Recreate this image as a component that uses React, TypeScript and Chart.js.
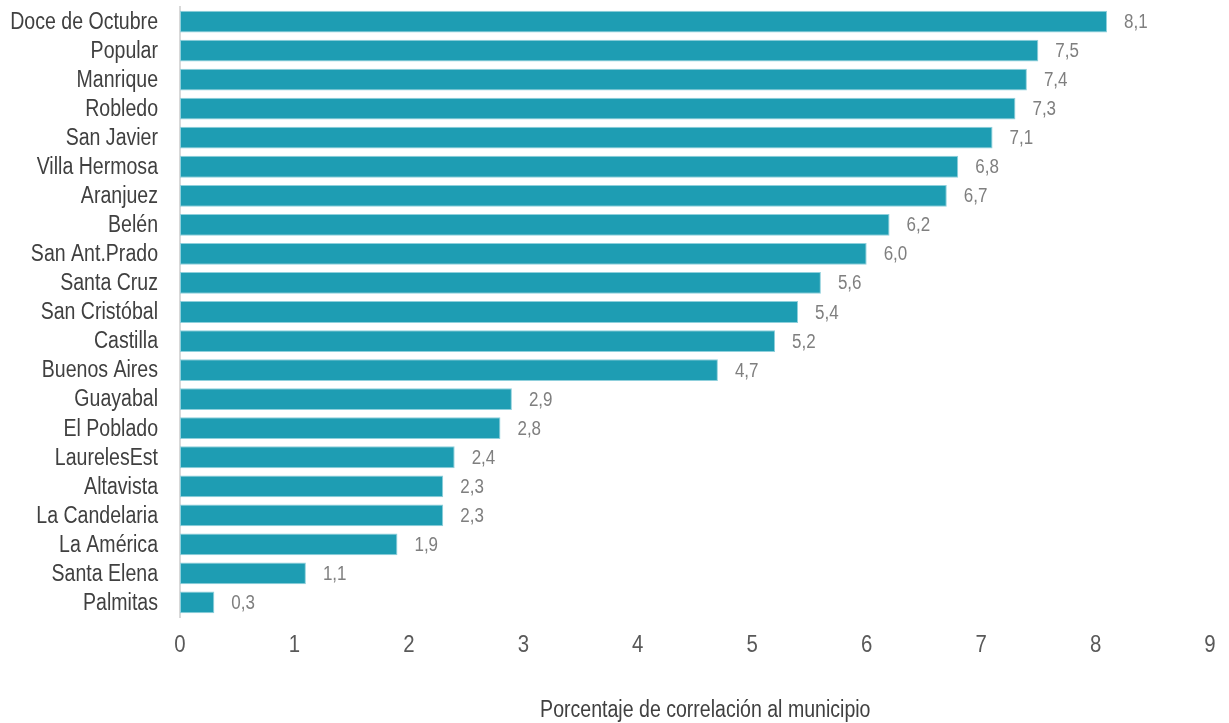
import React, { useEffect, useRef } from "react";
import { Chart, registerables } from "chart.js";

Chart.register(...registerables);

const comunas: string[] = [
  "Doce de Octubre", "Popular", "Manrique", "Robledo", "San Javier", "Villa Hermosa",
  "Aranjuez", "Belén", "San Ant.Prado", "Santa Cruz", "San Cristóbal", "Castilla",
  "Buenos Aires", "Guayabal", "El Poblado", "LaurelesEst", "Altavista", "La Candelaria",
  "La América", "Santa Elena", "Palmitas",
];

const porcentajes: number[] = [
  8.1, 7.5, 7.4, 7.3, 7.1, 6.8, 6.7, 6.2, 6.0, 5.6, 5.4, 5.2, 4.7, 2.9, 2.8, 2.4, 2.3, 2.3, 1.9, 1.1, 0.3,
];

const ticksX: number[] = [0, 1, 2, 3, 4, 5, 6, 7, 8, 9];

const tituloEje = "Porcentaje de correlación al municipio";

const FONT = '"Liberation Sans", Arial, sans-serif';
// horizontal squeeze that gives the narrow typeface look
const SX = 0.85;

const fmt = (v: number) => v.toFixed(1).replace(".", ",");

function narrowText(
  ctx: CanvasRenderingContext2D,
  text: string,
  x: number,
  y: number,
  size: number,
  color: string,
  align: CanvasTextAlign
) {
  ctx.save();
  ctx.font = `${size}px ${FONT}`;
  ctx.fillStyle = color;
  ctx.textAlign = align;
  ctx.textBaseline = "middle";
  ctx.translate(x, y);
  ctx.scale(SX, 1);
  ctx.fillText(text, 0, 0);
  ctx.restore();
}

// Category names, tick numbers, bar values and the axis title
const textLayer = {
  id: "textLayer",
  afterDraw(chart: any) {
    const ctx = chart.ctx as CanvasRenderingContext2D;
    const meta = chart.getDatasetMeta(0);
    const xs = chart.scales.x;
    const ys = chart.scales.y;
    const { left, right, bottom } = chart.chartArea;

    comunas.forEach((name, i) => {
      narrowText(ctx, name, left - 22, ys.getPixelForValue(i) + 1, 23, "#404040", "right");
    });

    meta.data.forEach((bar: any, i: number) => {
      narrowText(ctx, fmt(porcentajes[i]), bar.x + 17, bar.y + 1, 20, "#7f7f7f", "left");
    });

    ticksX.forEach((t) => {
      narrowText(ctx, String(t), xs.getPixelForValue(t), bottom + 28, 24, "#595959", "center");
    });

    narrowText(ctx, tituloEje, left + (right - left) * 0.51, 711, 23, "#404040", "center");
  },
};

export default function App() {
  const canvasRef = useRef<HTMLCanvasElement | null>(null);

  useEffect(() => {
    if (!canvasRef.current) return;
    const chart = new Chart(canvasRef.current, {
      type: "bar",
      data: {
        labels: comunas,
        datasets: [
          {
            data: porcentajes,
            backgroundColor: "#1e9db3",
            borderColor: "#8fd0dc",
            borderWidth: 1,
            borderSkipped: false,
            categoryPercentage: 1,
            barPercentage: 0.75,
          },
        ],
      },
      options: {
        indexAxis: "y",
        animation: false,
        responsive: true,
        maintainAspectRatio: false,
        layout: { padding: { top: 7, right: 19, bottom: 0, left: 0 } },
        plugins: {
          legend: { display: false },
          tooltip: { enabled: false },
        },
        scales: {
          x: {
            min: 0,
            max: 9,
            ticks: { display: false, stepSize: 1 },
            grid: { display: false, drawTicks: false },
            border: { display: false },
            afterFit(scale: any) {
              scale.height = 106;
              scale.paddingLeft = 0;
              scale.paddingRight = 0;
            },
          },
          y: {
            ticks: { display: false, autoSkip: false },
            grid: { display: false, drawTicks: false },
            border: { display: true, color: "#d9d9d9", width: 2 },
            afterFit(scale: any) {
              scale.width = 180;
              scale.paddingTop = 0;
              scale.paddingBottom = 0;
            },
          },
        },
      },
      plugins: [textLayer],
    });
    return () => chart.destroy();
  }, []);

  return (
    <div style={{ position: "fixed", left: 0, top: 0, width: 1229, height: 723, background: "#fff" }}>
      <canvas ref={canvasRef} />
    </div>
  );
}
